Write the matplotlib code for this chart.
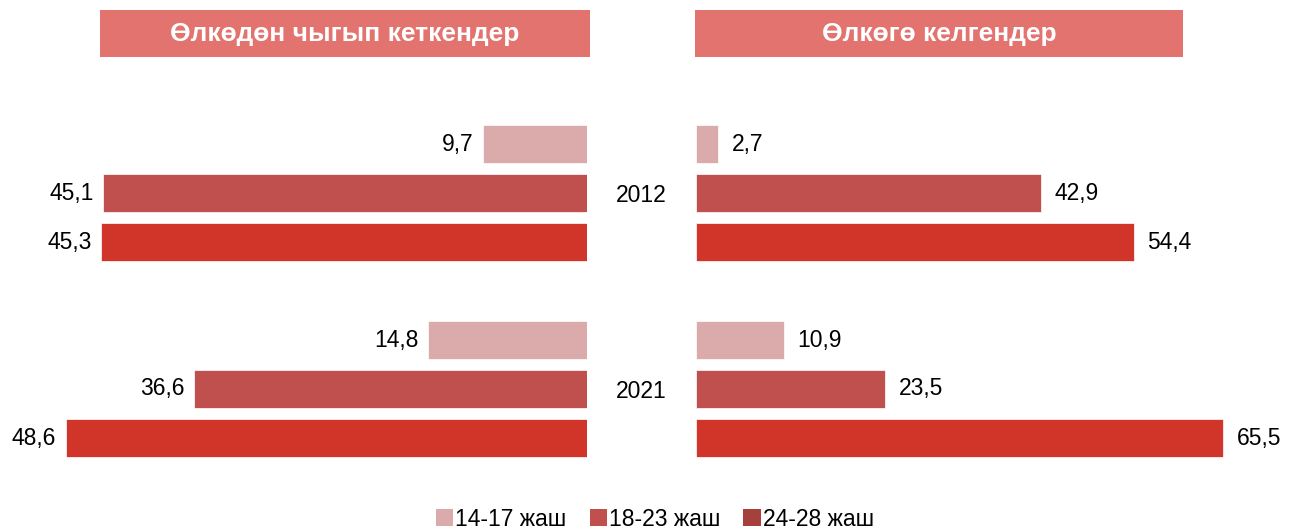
import matplotlib
matplotlib.use("Agg")
import matplotlib.pyplot as plt
from matplotlib.patches import Rectangle, Patch

plt.rcParams['font.family'] = ['Liberation Sans', 'DejaVu Sans']

years = ["2012", "2021"]
groups = ["14-17 жаш", "18-23 жаш", "24-28 жаш"]
left_title = "Өлкөдөн чыгып кеткендер"
right_title = "Өлкөгө келгендер"
left_vals = {"2012": [9.7, 45.1, 45.3], "2021": [14.8, 36.6, 48.6]}
right_vals = {"2012": [2.7, 42.9, 54.4], "2021": [10.9, 23.5, 65.5]}

bar_colors = ["#DBAAAA", "#C0504D", "#D13428"]
legend_colors = ["#DBAAAA", "#C0504D", "#A5403C"]
title_bg = "#E2736E"

W, H = 1289, 529
fig = plt.figure(figsize=(W / 100, H / 100), dpi=100)

def fx(px):
    return px / W

def fy(py):
    return 1 - py / H

ax_top, ax_bot = 104.8, 477.2
axL = fig.add_axes([fx(40), fy(ax_bot), fx(587 - 40), (ax_bot - ax_top) / H])
axR = fig.add_axes([fx(696), fy(ax_bot), fx(1256 - 696), (ax_bot - ax_top) / H])

def fmt(v):
    return f"{v:.1f}".replace(".", ",")

for ax, vals, side in [(axL, left_vals, "L"), (axR, right_vals, "R")]:
    for g, yr in enumerate(years):
        for i, v in enumerate(vals[yr]):
            y = g * 4 + i
            ax.barh(y, v, height=0.78, color=bar_colors[i], edgecolor="white", linewidth=0.5)
            if side == "L":
                ax.text(v + 0.9, y, fmt(v), ha="right", va="center", fontsize=16.5, color="black")
            else:
                ax.text(v + 1.7, y, fmt(v), ha="left", va="center", fontsize=16.5, color="black")
    ax.set_ylim(6.8, -0.8)
    ax.axis("off")

axL.set_xlim(51.0, 0)
axR.set_xlim(0, 69.6)

# year labels between panels
for g, yr in enumerate(years):
    ypx = 144 + (g * 4 + 1) * 49 + 3
    fig.text(fx(641.5), fy(ypx), yr, ha="center", va="center", fontsize=16.5)

# title boxes
for x0, x1, t in [(100, 590, left_title), (695, 1183, right_title)]:
    fig.patches.append(Rectangle((fx(x0), fy(57)), fx(x1 - x0), 47 / H,
                                 transform=fig.transFigure, facecolor=title_bg,
                                 edgecolor="none", zorder=0))
    fig.text(fx((x0 + x1) / 2), fy(34), t, ha="center", va="center",
             fontsize=19, fontweight="bold", color="white")

handles = [Patch(facecolor=c, edgecolor="none") for c in legend_colors]
fig.legend(handles, groups, loc="center", bbox_to_anchor=(fx(655), fy(519)),
           ncol=3, frameon=False, fontsize=16.5, handlelength=0.75, handleheight=0.75,
           handletextpad=0.1, columnspacing=1.0)

fig.savefig("out.png", dpi=100)
